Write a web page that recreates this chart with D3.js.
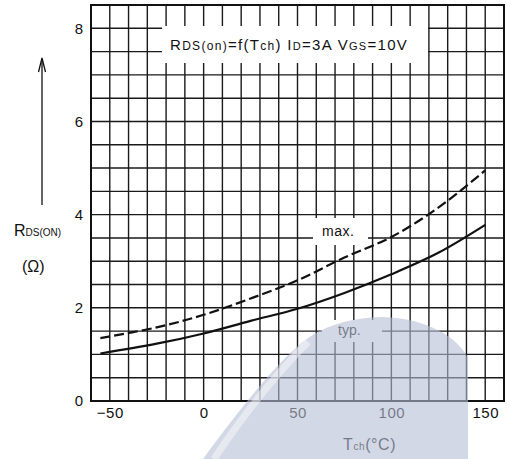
<!DOCTYPE html>
<html>
<head>
<meta charset="utf-8">
<script src="https://cdn.jsdelivr.net/npm/d3@7"></script>
<style>
  body { margin: 0; background: #fff; }
  svg { display: block; }
  text { font-family: "Liberation Sans", Arial, sans-serif; fill: #111; }
</style>
</head>
<body>
<div id="chart"></div>
<script>
// channel temperature (°C) and Rds(on) (ohm)
const tempC = [-55, -25, 0, 25, 50, 75, 100, 125, 150];
const rdsTyp = [1.02, 1.23, 1.45, 1.72, 1.98, 2.32, 2.72, 3.18, 3.78];
const rdsMax = [1.35, 1.58, 1.85, 2.2, 2.59, 3.08, 3.52, 4.15, 4.95];
const xTicks = [-50, 0, 50, 100, 150];
const yTicks = [0, 2, 4, 6, 8];

const width = 511, height = 459;
const margin = {top: 5, right: 7, bottom: 58, left: 91};

const svg = d3.select("#chart").append("svg")
    .attr("width", width)
    .attr("height", height);

let xScale = d3.scaleLinear().domain([-60, 160]).range([margin.left, width - margin.right]);
let yScale = d3.scaleLinear().domain([0, 8.5]).range([height - margin.bottom, margin.top]);

// grid, 10 degC by 0.5 ohm
let grid = svg.append("g").attr("class", "grid")
    .attr("stroke", "#1a1a1a").attr("stroke-width", 1.4);
grid.selectAll("line.v").data(d3.range(-50, 151, 10)).enter().append("line")
    .attr("class", "v")
    .attr("x1", d => xScale(d)).attr("x2", d => xScale(d))
    .attr("y1", yScale(0)).attr("y2", yScale(8.5));
grid.selectAll("line.h").data(d3.range(0.5, 8.01, 0.5)).enter().append("line")
    .attr("class", "h")
    .attr("x1", xScale(-60)).attr("x2", xScale(160))
    .attr("y1", d => yScale(d)).attr("y2", d => yScale(d));

// frame
svg.append("rect")
    .attr("x", xScale(-60)).attr("y", yScale(8.5))
    .attr("width", xScale(160) - xScale(-60))
    .attr("height", yScale(0) - yScale(8.5))
    .attr("fill", "none").attr("stroke", "#111").attr("stroke-width", 2);

// white boxes behind the annotations
svg.append("rect").attr("x", 162).attr("y", 26).attr("width", 266).attr("height", 37).attr("fill", "#fff");
svg.append("rect").attr("x", 313).attr("y", 218).attr("width", 55).attr("height", 27).attr("fill", "#fff");
svg.append("rect").attr("x", 322).attr("y", 320).attr("width", 60).attr("height", 22).attr("fill", "#fff");

// axes
let axisy = d3.axisLeft(yScale).tickValues(yTicks).tickSize(0).tickPadding(8);
let yAxis = svg.append("g").attr("class", "yAxis")
    .attr("transform", "translate(" + margin.left + ",0)")
    .call(axisy);
yAxis.select(".domain").remove();
yAxis.selectAll("text").style("font-size", "15px").attr("fill", "#111");

let axisx = d3.axisBottom(xScale).tickValues(xTicks).tickSize(0).tickPadding(6);
let xAxis = svg.append("g").attr("class", "xAxis")
    .attr("transform", "translate(0," + (height - margin.bottom) + ")")
    .call(axisx);
xAxis.select(".domain").remove();
xAxis.selectAll("text").style("font-size", "15px").style("letter-spacing", "0.5px").attr("fill", "#111");

// curves
let line = d3.line()
    .x(d => xScale(d.t))
    .y(d => yScale(d.r))
    .curve(d3.curveCatmullRom);

let typData = tempC.map((t, i) => ({t: t, r: rdsTyp[i]}));
let maxData = tempC.map((t, i) => ({t: t, r: rdsMax[i]}));

svg.append("path").attr("d", line(typData))
    .attr("fill", "none").attr("stroke", "#111").attr("stroke-width", 2.2);
svg.append("path").attr("d", line(maxData))
    .attr("fill", "none").attr("stroke", "#111").attr("stroke-width", 2.2)
    .attr("stroke-dasharray", "10,4");

// annotations
svg.append("text").attr("x", 322).attr("y", 236).style("font-size", "14px").style("letter-spacing", "0.5px").text("max.");
svg.append("text").attr("x", 338).attr("y", 335).style("font-size", "14px").text("typ.");

let title = svg.append("text").attr("x", 170).attr("y", 50)
    .style("font-size", "15px").style("letter-spacing", "1.3px");
title.append("tspan").text("R");
title.append("tspan").style("font-size", "12px").text("DS(on)");
title.append("tspan").text("=f(T");
title.append("tspan").style("font-size", "12px").text("ch");
title.append("tspan").text(")  I");
title.append("tspan").style("font-size", "11px").text("D");
title.append("tspan").text("=3A  V");
title.append("tspan").style("font-size", "11px").text("GS");
title.append("tspan").text("=10V");

// y label with arrow
svg.append("line").attr("x1", 42).attr("x2", 42).attr("y1", 205).attr("y2", 59)
    .attr("stroke", "#111").attr("stroke-width", 1.3);
svg.append("path").attr("d", "M38.5,72L42,58L45.5,72")
    .attr("fill", "none").attr("stroke", "#111").attr("stroke-width", 1.3);
let ylab = svg.append("text").attr("x", 14).attr("y", 236).style("font-size", "16px");
ylab.append("tspan").text("R");
ylab.append("tspan").style("font-size", "10px").text("DS(ON)");
svg.append("text").attr("x", 22).attr("y", 272).style("font-size", "16px").text("(Ω)");

let xlab = svg.append("text").attr("x", 343).attr("y", 450)
    .style("font-size", "16px").style("letter-spacing", "0.6px");
xlab.append("tspan").text("T");
xlab.append("tspan").style("font-size", "10px").text("ch");
xlab.append("tspan").text("(°C)");

// faint watermark over the lower right
svg.append("path")
    .attr("d", "M203,459C232,420 268,372 298,346C318,328 345,318 382,317C428,318 458,338 468,358L468,459Z")
    .attr("fill", "rgb(182,190,214)").attr("opacity", 0.6);
svg.append("path")
    .attr("d", "M214,459C240,420 270,380 308,342")
    .attr("fill", "none").attr("stroke", "#fff").attr("stroke-width", 7).attr("opacity", 0.45);
</script>
</body>
</html>
